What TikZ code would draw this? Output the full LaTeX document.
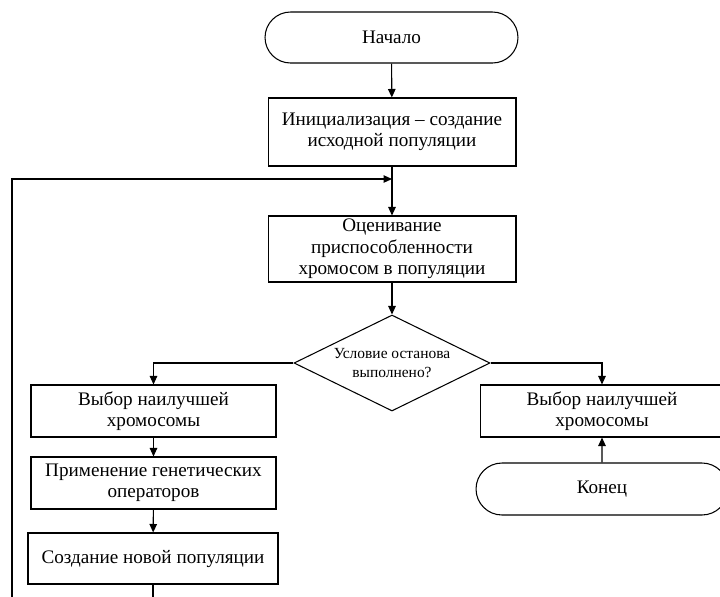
\documentclass[tikz,border=0pt]{standalone}
\usepackage{fontspec}
\setmainfont{Liberation Serif}
\usetikzlibrary{shapes.geometric,shapes.misc,arrows.meta}
\begin{document}
\begin{tikzpicture}[x=0.02cm, y=-0.02cm, line width=0.6pt,
        blockbox/.style={draw, rectangle, align=center, inner sep=0pt, font=\fontsize{10.9}{12.2}\selectfont},
        termbox/.style={draw, rounded rectangle, align=center, inner sep=0pt, font=\fontsize{10.9}{12.2}\selectfont},
        condbox/.style={draw, diamond, aspect=2, align=center, inner sep=0pt, font=\fontsize{8.8}{10.6}\selectfont},
        flow/.style={-{Triangle[length=0.17cm, width=0.15cm]}}]
\useasboundingbox (0, 0) rectangle (720, 596);
\node[termbox, minimum width=5.06cm, minimum height=1.02cm] (start) at (391.5, 37.5) {Начало};
\node[blockbox, minimum width=4.96cm, minimum height=1.36cm] (init) at (392, 132) {Инициализация -- создание\\исходной популяции};
\node[blockbox, minimum width=4.96cm, minimum height=1.32cm] (eval) at (392, 249) {Оценивание\\приспособленности\\хромосом в популяции};
\node[condbox, minimum width=3.92cm, minimum height=1.92cm] (cond) at (392, 363) {Условие останова\\выполнено?};
\node[blockbox, minimum width=4.90cm, minimum height=1.04cm] (selA) at (153.5, 411) {Выбор наилучшей\\хромосомы};
\node[blockbox, minimum width=4.90cm, minimum height=1.04cm] (oper) at (153.5, 483) {Применение генетических\\операторов};
\node[blockbox, minimum width=5.00cm, minimum height=1.02cm] (newpop) at (153, 558.5) {Создание новой популяции};
\node[blockbox, minimum width=4.88cm, minimum height=1.04cm] (selB) at (602, 411) {Выбор наилучшей\\хромосомы};
\node[termbox, minimum width=5.04cm, minimum height=1.04cm] (finish) at (602, 489) {Конец};
\coordinate (join) at (392, 179);
\coordinate (loopA) at (153, 620);
\coordinate (loopB) at (12, 620);
\draw[flow] (start) -- (init);
\draw[flow] (init) -- (eval);
\draw[flow] (eval) -- (cond);
\draw[flow] (cond.west) -| (selA);
\draw[flow] (cond.east) -| (selB);
\draw[flow] (selA) -- (oper);
\draw[flow] (oper) -- (newpop);
\draw[flow] (finish) -- (selB);
\draw[flow] (newpop) -- (loopA) -- (loopB) |- (join);
\end{tikzpicture}
\end{document}
